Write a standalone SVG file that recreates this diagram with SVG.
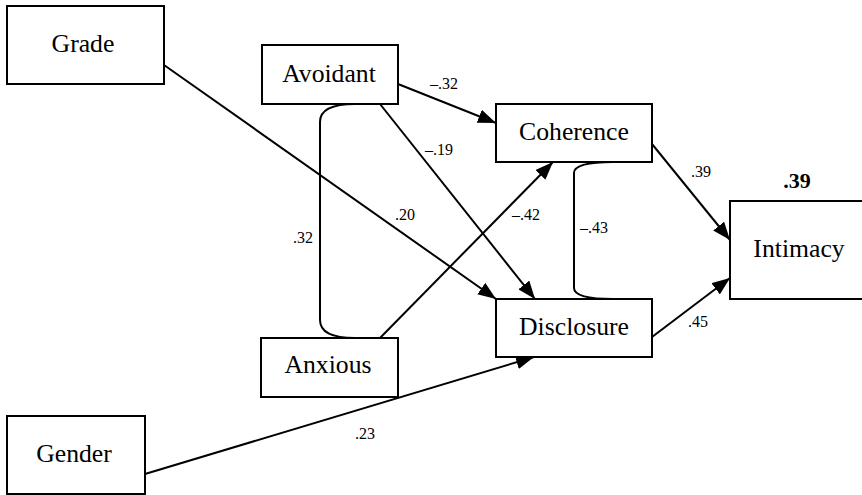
<svg xmlns="http://www.w3.org/2000/svg" width="862" height="495" viewBox="0 0 862 495" font-family="'Liberation Serif', 'Times New Roman', Tinos, 'DejaVu Serif', serif">
<style>
text{font-family:'Liberation Serif','Times New Roman',Tinos,'DejaVu Serif',serif;fill:#000}
.box{fill:#fff;stroke:#000;stroke-width:2}
.nt{font-size:25.7px;text-anchor:middle}
.lb{font-size:16px}
.bl{font-size:22px;font-weight:bold;text-anchor:middle}
.ln{fill:none;stroke:#000;stroke-width:2}
.ar{marker-end:url(#ah)}
</style>
<defs>
<marker id="ah" markerUnits="userSpaceOnUse" markerWidth="18" markerHeight="14" refX="18" refY="7" orient="auto">
<path d="M0,0 L18,7 L0,14 z" fill="#000"/>
</marker>
</defs>
<rect width="862" height="495" fill="#fff"/>
<g id="connectors">
<path class="ln ar" d="M164,65 L496,299"/>
<path class="ln ar" d="M398,84 L496,123"/>
<path class="ln ar" d="M380,104 L535,299"/>
<path class="ln ar" d="M380,338 L553,162"/>
<path class="ln ar" d="M145,474 L534,357"/>
<path class="ln ar" d="M652,144 L730,240"/>
<path class="ln ar" d="M652,337 L730,278"/>
<path class="ln" d="M355,104 C334,104 320,109 320,122 L320,320 C320,333 334,338 355,338"/>
<path class="ln" d="M613,162 C590,162 574,165 574,173 L574,288 C574,296 590,299 613,299"/>
<text class="lb" x="430" y="89">–.32</text>
<text class="lb" x="425" y="155">–.19</text>
<text class="lb" x="395" y="220">.20</text>
<text class="lb" x="293" y="243">.32</text>
<text class="lb" x="512" y="220">–.42</text>
<text class="lb" x="580" y="233">–.43</text>
<text class="lb" x="691" y="177">.39</text>
<text class="lb" x="688" y="327">.45</text>
<text class="lb" x="355" y="439">.23</text>
</g>
<g id="grade"><rect class="box" x="7" y="6" width="157" height="78"/><text class="nt" x="83" y="52">Grade</text></g>
<g id="avoidant"><rect class="box" x="262" y="45" width="136" height="59"/><text class="nt" x="329" y="82">Avoidant</text></g>
<g id="coherence"><rect class="box" x="496" y="104" width="156" height="58"/><text class="nt" x="574" y="140">Coherence</text></g>
<g id="disclosure"><rect class="box" x="496" y="299" width="156" height="58"/><text class="nt" x="574" y="335">Disclosure</text></g>
<g id="anxious"><rect class="box" x="261" y="338" width="137" height="59"/><text class="nt" x="328" y="373">Anxious</text></g>
<g id="gender"><rect class="box" x="7" y="416" width="138" height="78"/><text class="nt" x="74" y="462">Gender</text></g>
<g id="intimacy"><rect class="box" x="730" y="201" width="150" height="98"/><text class="nt" x="799" y="257">Intimacy</text><text class="bl" x="797" y="188">.39</text></g>
</svg>
